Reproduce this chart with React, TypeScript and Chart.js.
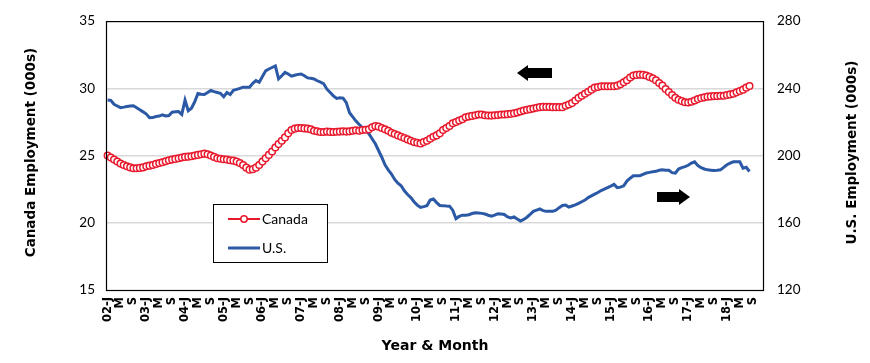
import React, { useEffect, useRef } from 'react';
import { Chart, registerables } from 'chart.js';

Chart.register(...registerables);

// ---- Data ----
const years = ['02', '03', '04', '05', '06', '07', '08', '09', '10', '11', '12', '13', '14', '15', '16', '17', '18'];
const monthLetters = ['J', '', '', '', 'M', '', '', '', 'S', '', '', ''];

// Canada employment (000s), monthly Jan 2002 - Aug 2018
const canadaValues = [
  25.0, 24.85, 24.7, 24.55, 24.4, 24.3, 24.2, 24.12, 24.05, 24.05, 24.08, 24.12,
  24.2, 24.25, 24.3, 24.38, 24.45, 24.5, 24.58, 24.65, 24.7, 24.75, 24.8, 24.85,
  24.9, 24.92, 24.95, 25.0, 25.05, 25.1, 25.14, 25.1, 25.0, 24.9, 24.8, 24.76,
  24.72, 24.7, 24.65, 24.62, 24.55, 24.45, 24.3, 24.1, 23.95, 23.98, 24.1, 24.3,
  24.55, 24.8, 25.05, 25.3, 25.6, 25.85, 26.1, 26.35, 26.65, 26.9, 27.0, 27.05,
  27.05, 27.02, 27.0, 26.95, 26.85, 26.8, 26.75, 26.75, 26.78, 26.76, 26.75, 26.77,
  26.78, 26.8, 26.78, 26.8, 26.85, 26.88, 26.85, 26.9, 26.92, 26.95, 27.1, 27.2,
  27.15, 27.05, 26.95, 26.85, 26.7, 26.6, 26.5, 26.4, 26.3, 26.2, 26.1, 26.0,
  25.95, 25.9, 26.0, 26.1, 26.25, 26.4, 26.5, 26.65, 26.9, 27.05, 27.2, 27.4,
  27.5, 27.6, 27.7, 27.85, 27.9, 27.95, 28.0, 28.05, 28.05, 28.0, 27.98, 27.97,
  28.0, 28.02, 28.05, 28.05, 28.08, 28.1, 28.15, 28.2, 28.28, 28.35, 28.4, 28.45,
  28.5, 28.55, 28.6, 28.62, 28.62, 28.62, 28.6, 28.6, 28.6, 28.6, 28.7, 28.8,
  28.9, 29.1, 29.3, 29.45, 29.6, 29.75, 29.9, 30.05, 30.1, 30.15, 30.15, 30.15,
  30.15, 30.15, 30.2, 30.3, 30.45, 30.6, 30.8, 30.95, 31.0, 31.02, 31.0, 30.95,
  30.85, 30.75, 30.6, 30.4, 30.2, 29.95, 29.73, 29.5, 29.3, 29.15, 29.05, 28.96,
  28.95, 29.0, 29.1, 29.2, 29.28, 29.33, 29.38, 29.4, 29.42, 29.42, 29.45, 29.45,
  29.5, 29.55, 29.6, 29.7, 29.8, 29.9, 30.05, 30.17,
];

// U.S. employment (000s), monthly Jan 2002 - Aug 2018
const usValues = [
  233, 232.8, 230.5, 229.5, 228.5, 228.8, 229.2, 229.5, 229.6, 228.5, 227.2, 226,
  224.7, 222.5, 222.6, 223.2, 223.5, 224.2, 223.6, 223.8, 225.8, 226, 226.2, 224.5,
  233, 226.7, 228.2, 232, 236.9, 236.5, 236.3, 237.5, 238.8, 238, 237.5, 237,
  235, 237.5, 236.3, 238.8, 239.4, 240, 240.7, 240.7, 240.7, 243, 244.6, 243.6,
  247, 250.4, 251.5, 252.4, 253.3, 245.6, 247.5, 249.5, 248.5, 247.2, 247.8, 248.3,
  248.5, 247.5, 246.2, 246, 245.6, 244.5, 243.7, 242.7, 239.5, 237.5, 235.5, 234,
  234.4, 234.2, 231.5, 225.5, 223, 220.5, 218.5, 216.6, 215, 213, 210, 207,
  203, 199, 194.5, 191.5, 189, 185.8, 183.5, 182, 179, 176.8, 175, 172.5,
  170.5, 169.2, 169.6, 170.2, 173.5, 174.1, 172, 170.3, 170.2, 170, 169.9, 167.5,
  162.5, 163.8, 164.5, 164.5, 164.8, 165.5, 166, 165.8, 165.6, 165.2, 164.5, 163.9,
  164.5, 165.4, 165.2, 164.9, 163.5, 162.9, 163.5, 162.2, 161, 162, 163.3, 165,
  166.8, 167.5, 168.2, 167.2, 166.8, 166.8, 166.8, 167.5, 169, 170.3, 170.5, 169.3,
  170, 170.6, 171.5, 172.5, 173.5, 175, 176, 177, 178, 179.2, 180, 180.9,
  181.8, 182.8, 180.9, 181.2, 182, 184.8, 186.5, 188, 188, 188, 188.8, 189.6,
  190, 190.3, 190.6, 191.2, 191.5, 191.3, 191.2, 189.8, 189.5, 192, 192.8, 193.4,
  194.2, 195.5, 196.3, 194, 192.8, 192, 191.5, 191.3, 191.1, 191.2, 191.5, 193,
  194.5, 195.5, 196.3, 196.3, 196.3, 192.5, 193, 190.5,
];

const leftAxis = { min: 15, max: 35, step: 5 };
const rightAxis = { min: 120, max: 280, step: 40 };

const categories: string[] = [];
years.forEach((y) => {
  monthLetters.forEach((m, i) => {
    categories.push(i === 0 ? `${y}-${m}` : m);
  });
});

const RED = '#E8192C';
const BLUE = '#2B59A6';
const FONT = 'Lato, "Noto Sans", sans-serif';
const TITLE_FONT = '"DejaVu Sans", sans-serif';

const overlayPlugin = {
  id: 'overlay',
  afterDraw(chart: any) {
    const ctx: CanvasRenderingContext2D = chart.ctx;
    const a = chart.chartArea;
    ctx.save();

    // plot border
    ctx.strokeStyle = '#000';
    ctx.lineWidth = 1.2;
    ctx.strokeRect(a.left + 0.5, a.top + 0.5, a.right - a.left - 1, a.bottom - a.top);

    // axis titles
    ctx.fillStyle = '#000';
    ctx.font = `bold 13.5px ${TITLE_FONT}`;
    ctx.textAlign = 'center';
    ctx.textBaseline = 'middle';
    const midY = (a.top + a.bottom) / 2 - 3;
    ctx.save();
    ctx.translate(31, midY);
    ctx.rotate(-Math.PI / 2);
    ctx.fillText('Canada Employment (000s)', 0, 0);
    ctx.restore();
    ctx.save();
    ctx.translate(852, midY);
    ctx.rotate(-Math.PI / 2);
    ctx.fillText('U.S. Employment (000s)', 0, 0);
    ctx.restore();
    ctx.font = `bold 14px ${TITLE_FONT}`;
    ctx.fillText('Year & Month', (a.left + a.right) / 2, 346);

    // arrows
    const arrow = (tailX: number, tipX: number, cy: number) => {
      const dir = tipX > tailX ? 1 : -1;
      const headLen = 11;
      const bodyH = 5;
      const headH = 8;
      const hx = tipX - dir * headLen;
      ctx.beginPath();
      ctx.moveTo(tailX, cy - bodyH);
      ctx.lineTo(hx, cy - bodyH);
      ctx.lineTo(hx, cy - headH);
      ctx.lineTo(tipX, cy);
      ctx.lineTo(hx, cy + headH);
      ctx.lineTo(hx, cy + bodyH);
      ctx.lineTo(tailX, cy + bodyH);
      ctx.closePath();
      ctx.fillStyle = '#000';
      ctx.fill();
    };
    arrow(552, 517, 73);
    arrow(657, 690, 197);

    // legend
    const lx = 213, ly = 204, lw = 114, lh = 58;
    ctx.fillStyle = '#fff';
    ctx.fillRect(lx, ly, lw, lh);
    ctx.strokeStyle = '#000';
    ctx.lineWidth = 1;
    ctx.strokeRect(lx + 0.5, ly + 0.5, lw, lh);
    const ds = chart.data.datasets;
    const rows = [219, 248];
    ds.forEach((d: any, i: number) => {
      const yy = rows[i];
      ctx.strokeStyle = d.borderColor;
      ctx.lineWidth = i === 0 ? 2 : 3;
      ctx.beginPath();
      ctx.moveTo(228, yy);
      ctx.lineTo(260, yy);
      ctx.stroke();
      if (i === 0) {
        ctx.beginPath();
        ctx.arc(244, yy, 3.2, 0, Math.PI * 2);
        ctx.fillStyle = '#fff';
        ctx.fill();
        ctx.lineWidth = 1.5;
        ctx.stroke();
      }
      ctx.fillStyle = '#000';
      ctx.font = `14px ${FONT}`;
      ctx.textAlign = 'left';
      ctx.textBaseline = 'middle';
      ctx.fillText(d.label, 262, yy);
    });

    ctx.restore();
  },
};

export default function App() {
  const ref = useRef<HTMLCanvasElement | null>(null);

  useEffect(() => {
    if (!ref.current) return;
    const chart = new Chart(ref.current, {
      type: 'line',
      data: {
        labels: categories,
        datasets: [
          {
            label: 'Canada',
            data: canadaValues,
            yAxisID: 'y',
            borderColor: RED,
            backgroundColor: '#fff',
            borderWidth: 2,
            pointRadius: 3.3,
            pointBorderWidth: 1.5,
            pointBackgroundColor: '#fff',
            pointBorderColor: RED,
            tension: 0,
          },
          {
            label: 'U.S.',
            data: usValues,
            yAxisID: 'y1',
            borderColor: BLUE,
            backgroundColor: BLUE,
            borderWidth: 3,
            pointRadius: 0,
            tension: 0,
          },
        ],
      },
      options: {
        responsive: false,
        animation: false,
        devicePixelRatio: 1,
        layout: { padding: { top: 14, left: 0, right: 0, bottom: 0 } },
        plugins: {
          legend: { display: false },
          tooltip: { enabled: false },
        },
        scales: {
          x: {
            type: 'category',
            offset: true,
            grid: { display: false, drawTicks: false },
            border: { display: false },
            ticks: {
              autoSkip: false,
              minRotation: 90,
              maxRotation: 90,
              padding: 7,
              color: '#000',
              font: { family: TITLE_FONT, size: 11.5, weight: 'bold' },
              callback: (_v: any, i: number) => categories[i],
            },
            afterFit: (s: any) => {
              s.height = 73;
            },
          },
          y: {
            position: 'left',
            min: leftAxis.min,
            max: leftAxis.max,
            grid: {
              drawTicks: false,
              lineWidth: 1.5,
              color: (c: any) =>
                c.tick && (c.tick.value === leftAxis.min || c.tick.value === leftAxis.max) ? 'rgba(0,0,0,0)' : '#D9D9D9',
            },
            border: { display: false },
            ticks: {
              stepSize: leftAxis.step,
              padding: 11,
              color: '#000',
              font: { family: FONT, size: 13.5 },
            },
            afterFit: (s: any) => {
              s.width = 106;
            },
          },
          y1: {
            position: 'right',
            min: rightAxis.min,
            max: rightAxis.max,
            grid: { display: false, drawTicks: false },
            border: { display: false },
            ticks: {
              stepSize: rightAxis.step,
              padding: 13,
              color: '#000',
              font: { family: FONT, size: 13.5 },
            },
            afterFit: (s: any) => {
              s.width = 106;
            },
          },
        },
      },
      plugins: [overlayPlugin],
    } as any);
    return () => chart.destroy();
  }, []);

  return (
    <div style={{ position: 'fixed', left: 0, top: 0, width: 870, height: 363, background: '#fff' }}>
      <canvas ref={ref} width={870} height={363} style={{ width: 870, height: 363, display: 'block' }} />
    </div>
  );
}
